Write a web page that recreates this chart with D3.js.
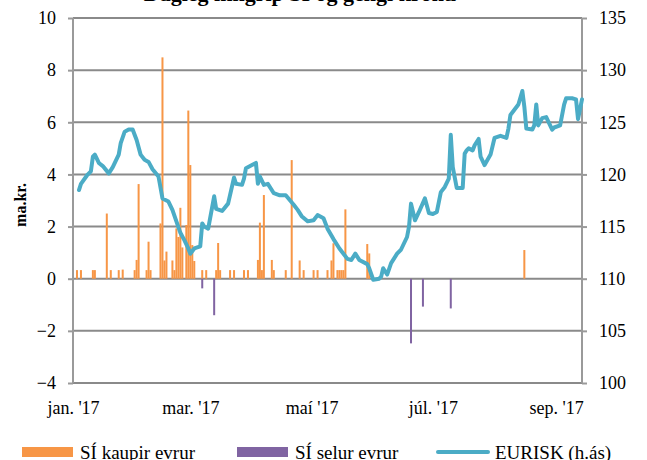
<!DOCTYPE html>
<html>
<head>
<meta charset="utf-8">
<script src="https://cdn.jsdelivr.net/npm/d3@7"></script>
<style>
  body { margin: 0; background: #fff; }
  text { font-family: "Liberation Serif", "Times New Roman", serif; fill: #000; }
  .axis .domain { display: none; }
  .axis text { font-size: 18px; }
</style>
</head>
<body>
<script>
// EURISK (right axis)
var lineDates = ["2017-01-04","2017-01-05","2017-01-08","2017-01-10","2017-01-11","2017-01-12","2017-01-14","2017-01-16","2017-01-19","2017-01-21",
  "2017-01-24","2017-01-25","2017-01-27","2017-01-29","2017-01-31","2017-02-02","2017-02-04","2017-02-06","2017-02-08","2017-02-10",
  "2017-02-13","2017-02-15","2017-02-18","2017-02-20","2017-02-22","2017-02-24","2017-02-26","2017-02-28","2017-03-01","2017-03-03",
  "2017-03-06","2017-03-07","2017-03-08","2017-03-10","2017-03-13","2017-03-14","2017-03-17","2017-03-20","2017-03-23","2017-03-24",
  "2017-03-27","2017-03-28","2017-03-29","2017-04-01","2017-04-03","2017-04-04","2017-04-05","2017-04-07","2017-04-09","2017-04-12",
  "2017-04-15","2017-04-18","2017-04-22","2017-04-24","2017-04-26","2017-04-29","2017-05-02","2017-05-04","2017-05-07","2017-05-09",
  "2017-05-12","2017-05-15","2017-05-19","2017-05-21","2017-05-23","2017-05-25","2017-05-29","2017-05-30","2017-06-01","2017-06-04",
  "2017-06-05","2017-06-06","2017-06-08","2017-06-10","2017-06-13","2017-06-15","2017-06-18","2017-06-19","2017-06-20","2017-06-22",
  "2017-06-24","2017-06-27","2017-06-29","2017-07-01","2017-07-03","2017-07-05","2017-07-07","2017-07-09","2017-07-10","2017-07-11",
  "2017-07-13","2017-07-16","2017-07-17","2017-07-18","2017-07-19","2017-07-21","2017-07-22","2017-07-24","2017-07-25","2017-07-27",
  "2017-07-30","2017-08-01","2017-08-04","2017-08-07","2017-08-08","2017-08-09","2017-08-11","2017-08-13","2017-08-15","2017-08-16",
  "2017-08-17","2017-08-20","2017-08-21","2017-08-22","2017-08-23","2017-08-25","2017-08-27","2017-08-30","2017-08-31","2017-09-03",
  "2017-09-05","2017-09-06","2017-09-09","2017-09-11","2017-09-12","2017-09-14"];
var lineValues = [118.5,119.1,119.9,120.3,121.7,121.9,121.1,120.8,120.1,120.7,
  121.9,123.0,124.1,124.3,124.3,123.3,121.9,121.4,121.2,120.5,
  119.8,117.7,117.4,116.6,115.5,114.4,113.7,112.9,112.4,112.9,
  113.1,115.3,115.0,114.8,117.9,116.7,116.5,117.2,119.7,119.1,
  119.0,119.6,120.6,120.9,121.1,119.1,119.8,119.0,119.1,118.2,
  118.0,118.0,117.1,116.6,116.0,115.5,115.6,116.1,115.8,114.8,
  113.8,112.9,111.9,111.8,112.4,111.8,111.4,111.0,109.9,110.0,
  110.2,111.0,110.4,111.5,112.4,112.8,114.0,115.0,117.2,115.6,
  116.4,117.7,116.3,116.2,116.4,118.3,118.8,119.6,123.8,120.7,
  118.7,118.7,122.0,122.3,122.5,122.3,122.8,123.4,121.7,120.9,
  121.9,123.5,123.7,123.5,124.4,125.7,126.2,126.7,128.0,126.5,
  124.4,124.3,124.7,126.7,124.7,125.4,125.5,124.3,124.5,124.7,
  126.7,127.3,127.3,127.2,125.3,127.2];

// SÍ kaupir evrur (ma.kr.)
var buyDates = ["2017-01-03","2017-01-05","2017-01-11","2017-01-12","2017-01-18","2017-01-20","2017-01-24","2017-01-26","2017-02-01","2017-02-02",
  "2017-02-03","2017-02-07","2017-02-08","2017-02-09","2017-02-14","2017-02-15","2017-02-16","2017-02-17","2017-02-20","2017-02-21",
  "2017-02-22","2017-02-23","2017-02-24","2017-02-25","2017-02-27","2017-02-28","2017-03-01","2017-03-02","2017-03-03","2017-03-07",
  "2017-03-09","2017-03-14","2017-03-15","2017-03-16","2017-03-21","2017-03-23","2017-03-28","2017-03-30","2017-04-04","2017-04-05",
  "2017-04-06","2017-04-07","2017-04-11","2017-04-12","2017-04-18","2017-04-21","2017-04-25","2017-04-27","2017-05-02","2017-05-04",
  "2017-05-09","2017-05-11","2017-05-12","2017-05-14","2017-05-15","2017-05-16","2017-05-17","2017-05-18","2017-05-29","2017-05-30",
  "2017-08-16"];
var buyValues = [0.33,0.33,0.33,0.33,2.5,0.33,0.33,0.35,0.33,0.72,
  3.63,0.33,1.42,0.33,2.12,8.49,0.7,1.04,0.7,0.33,
  1.93,1.6,2.72,1.2,2.06,6.45,4.36,1.29,0.68,0.33,
  0.33,0.33,1.37,0.33,0.33,0.33,0.33,0.33,0.72,2.15,
  0.33,3.21,0.72,0.33,0.33,4.55,0.7,0.33,0.33,0.33,
  0.33,0.7,1.36,0.33,0.33,0.33,0.33,2.66,1.33,0.97,
  1.1];

// SÍ selur evrur (ma.kr.)
var sellDates = ["2017-03-07","2017-03-13","2017-06-20","2017-06-26","2017-07-10"];
var sellValues = [-0.37,-1.4,-2.48,-1.07,-1.14];

var leftTicks = [-4, -2, 0, 2, 4, 6, 8, 10];
var rightTicks = [100, 105, 110, 115, 120, 125, 130, 135];
var monthTicks = ["2017-01-01", "2017-03-01", "2017-05-01", "2017-07-01", "2017-09-01"];
var monthLabels = ["jan. '17", "mar. '17", "maí '17", "júl. '17", "sep. '17"];

var w = 647, h = 460;
var padLeft = 73, padRight = 582, padTop = 18, padBottom = 383;
var parse = d3.timeParse("%Y-%m-%d");

var x = d3.scaleTime().domain([parse("2017-01-01"), parse("2017-09-14")]).range([padLeft, padRight]);
var yL = d3.scaleLinear().domain([-4, 10]).range([padBottom, padTop]);
var yR = d3.scaleLinear().domain([100, 135]).range([padBottom, padTop]);

var svg = d3.select("body").append("svg").attr("width", w).attr("height", h);

// title, cut off at the top like the original
svg.append("text").attr("x", 300).attr("y", 0.5).attr("text-anchor", "middle")
  .style("font-size", "22px").style("font-weight", "bold")
  .text("Dagleg inngrip SÍ og gengi krónu");

// gridlines
svg.selectAll(".grid").data(leftTicks).enter().append("line").attr("class", "grid")
  .attr("x1", padLeft).attr("x2", padRight)
  .attr("y1", d => yL(d)).attr("y2", d => yL(d))
  .attr("stroke", "#8a8a8a").attr("stroke-width", 2);

// vertical axis lines
svg.append("line").attr("x1", padLeft).attr("x2", padLeft).attr("y1", padTop).attr("y2", padBottom)
  .attr("stroke", "#9a9a9a").attr("stroke-width", 2);
svg.append("line").attr("x1", padRight).attr("x2", padRight).attr("y1", padTop).attr("y2", padBottom)
  .attr("stroke", "#9a9a9a").attr("stroke-width", 2);

// bars
svg.selectAll(".buy").data(buyDates).enter().append("rect").attr("class", "buy")
  .attr("x", d => x(parse(d)) - 1).attr("width", 2)
  .attr("y", (d, i) => yL(buyValues[i]))
  .attr("height", (d, i) => yL(0) - yL(buyValues[i]))
  .attr("fill", "#f79646");
svg.selectAll(".sell").data(sellDates).enter().append("rect").attr("class", "sell")
  .attr("x", d => x(parse(d)) - 1).attr("width", 2)
  .attr("y", yL(0))
  .attr("height", (d, i) => yL(sellValues[i]) - yL(0))
  .attr("fill", "#8064a2");

// EURISK line
var line = d3.line().x(d => x(parse(d))).y((d, i) => yR(lineValues[i]));
svg.append("path").datum(lineDates).attr("d", line)
  .attr("fill", "none").attr("stroke", "#4bacc6").attr("stroke-width", 4)
  .attr("stroke-linejoin", "round").attr("stroke-linecap", "round");

// axes
svg.append("g").attr("class", "axis").attr("transform", "translate(" + padLeft + ",0)")
  .call(d3.axisLeft(yL).tickValues(leftTicks).tickSize(5).tickPadding(12));
svg.append("g").attr("class", "axis").attr("transform", "translate(" + padRight + ",0)")
  .call(d3.axisRight(yR).tickValues(rightTicks).tickSize(5).tickPadding(12));
svg.selectAll(".axis .tick line").attr("stroke", "#9a9a9a").attr("stroke-width", 2);

svg.append("g").attr("class", "axis").attr("transform", "translate(0," + padBottom + ")")
  .call(d3.axisBottom(x).tickValues(monthTicks.map(parse))
    .tickFormat((d, i) => monthLabels[i]).tickSize(0).tickPadding(18));

// y axis title
svg.append("text").attr("transform", "translate(26,205) rotate(-90)")
  .attr("text-anchor", "middle").style("font-size", "16px").style("font-weight", "bold")
  .text("ma.kr.");

// legend
var legend = svg.append("g").attr("transform", "translate(0,452)");
legend.append("rect").attr("x", 22).attr("y", -5).attr("width", 51).attr("height", 10).attr("fill", "#f79646");
legend.append("text").attr("x", 80).attr("y", 7).style("font-size", "19px").text("SÍ kaupir evrur");
legend.append("rect").attr("x", 237).attr("y", -5).attr("width", 51).attr("height", 10).attr("fill", "#8064a2");
legend.append("text").attr("x", 295).attr("y", 7).style("font-size", "19px").text("SÍ selur evrur");
legend.append("line").attr("x1", 438).attr("x2", 488).attr("y1", 0).attr("y2", 0)
  .attr("stroke", "#4bacc6").attr("stroke-width", 4).attr("stroke-linecap", "round");
legend.append("text").attr("x", 495).attr("y", 7).style("font-size", "19px").text("EURISK (h.ás)");
</script>
</body>
</html>
